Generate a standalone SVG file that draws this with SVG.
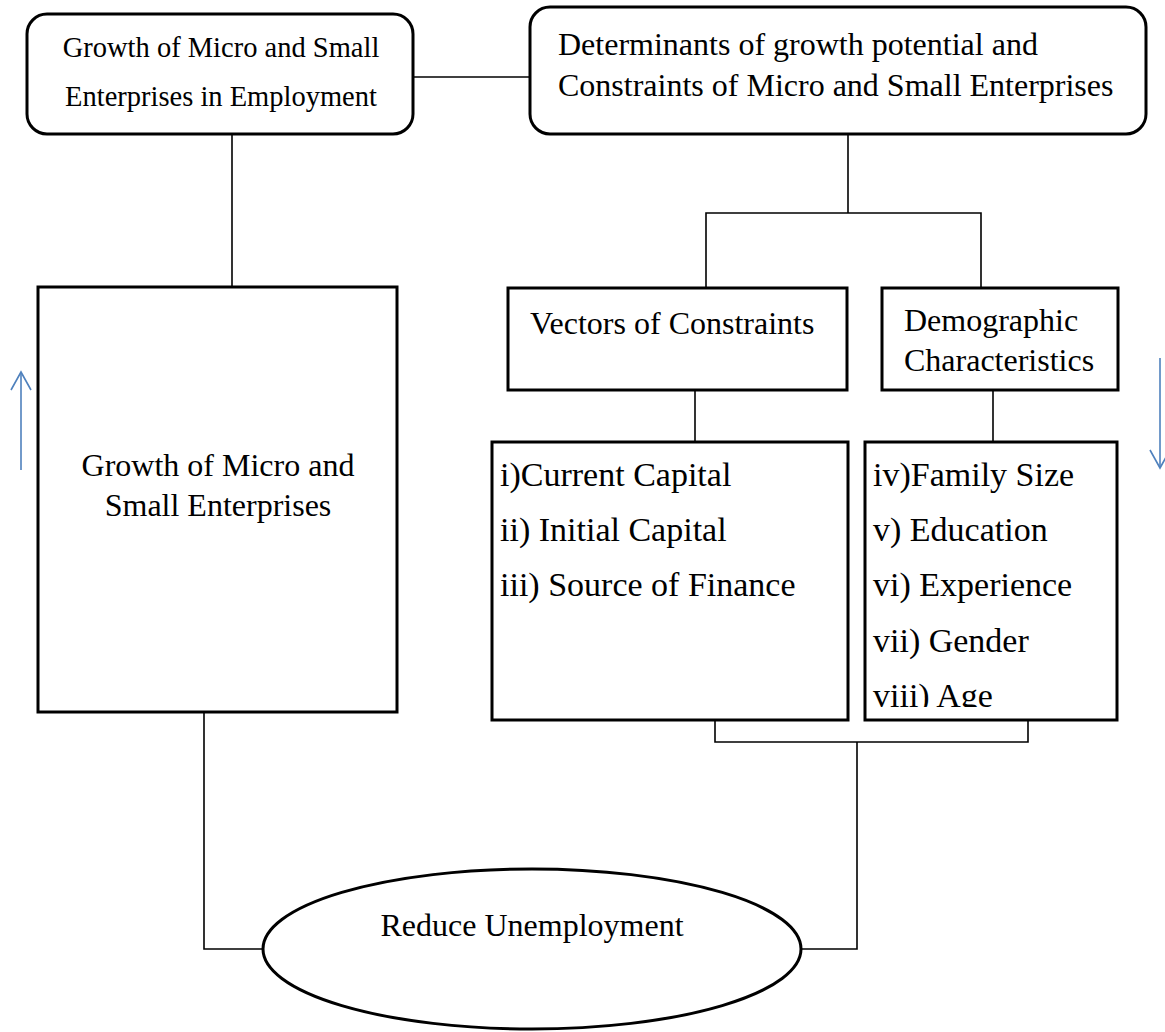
<svg xmlns="http://www.w3.org/2000/svg" width="1165" height="1032" viewBox="0 0 1165 1032">
<style>
  .box { fill: #fff; stroke: #000; stroke-width: 3; }
  .conn { fill: none; stroke: #000; stroke-width: 1.6; }
  .t { font-family: "Liberation Serif", "Times New Roman", serif; font-size: 32px; fill: #000; }
  .t1 { font-size: 28.5px; }
  .tl { font-size: 34px; }
  .blue { fill: none; stroke: #4f81bd; stroke-width: 1.6; }
</style>
<defs>
  <clipPath id="clipList2"><rect x="865" y="442" width="252" height="265"/></clipPath>
</defs>
<rect width="1165" height="1032" fill="#fff"/>
<g id="connectors">
  <line class="conn" x1="413" y1="77" x2="530" y2="77"/>
  <line class="conn" x1="232" y1="134" x2="232" y2="287"/>
  <polyline class="conn" points="848,134 848,213"/>
  <polyline class="conn" points="706,288 706,213 981,213 981,288"/>
  <line class="conn" x1="695" y1="390" x2="695" y2="442"/>
  <line class="conn" x1="993" y1="390" x2="993" y2="442"/>
  <polyline class="conn" points="715,720 715,742 1028,742 1028,720"/>
  <polyline class="conn" points="857,742 857,949 800,949"/>
  <polyline class="conn" points="204,712 204,949 263,949"/>
</g>
<g id="node-growth-employment">
  <rect class="box" x="27" y="14" width="386" height="120" rx="20"/>
  <text class="t t1" x="221" y="57" text-anchor="middle">Growth of Micro and Small</text>
  <text class="t t1" x="221" y="106" text-anchor="middle">Enterprises in Employment</text>
</g>
<g id="node-determinants">
  <rect class="box" x="530" y="7" width="616" height="127" rx="20"/>
  <text class="t" x="558" y="55">Determinants of growth potential and</text>
  <text class="t" x="558" y="96">Constraints of Micro and Small Enterprises</text>
</g>
<g id="node-growth">
  <rect class="box" x="38" y="287" width="359" height="425"/>
  <text class="t" x="218" y="476" text-anchor="middle">Growth of Micro and</text>
  <text class="t" x="218" y="516" text-anchor="middle">Small Enterprises</text>
</g>
<g id="node-vectors">
  <rect class="box" x="508" y="288" width="339" height="102"/>
  <text class="t" x="530" y="334">Vectors of Constraints</text>
</g>
<g id="node-demographic">
  <rect class="box" x="882" y="288" width="236" height="102"/>
  <text class="t" x="904" y="331">Demographic</text>
  <text class="t" x="904" y="371">Characteristics</text>
</g>
<g id="node-list-capital">
  <rect class="box" x="492" y="442" width="356" height="278"/>
  <text class="t tl" x="500" y="486">i)Current Capital</text>
  <text class="t tl" x="500" y="541">ii) Initial Capital</text>
  <text class="t tl" x="500" y="596">iii) Source of Finance</text>
</g>
<g id="node-list-demographic">
  <rect class="box" x="865" y="442" width="252" height="278"/>
  <g clip-path="url(#clipList2)">
    <text class="t tl" x="873" y="486">iv)Family Size</text>
    <text class="t tl" x="873" y="541">v) Education</text>
    <text class="t tl" x="873" y="596">vi) Experience</text>
    <text class="t tl" x="873" y="652">vii) Gender</text>
    <text class="t tl" x="873" y="707">viii) Age</text>
  </g>
</g>
<g id="node-reduce">
  <ellipse class="box" cx="532" cy="949" rx="269" ry="80"/>
  <text class="t" x="532" y="936" text-anchor="middle">Reduce Unemployment</text>
</g>
<g id="arrow-up">
  <line class="blue" x1="21" y1="470" x2="21" y2="373"/>
  <polyline class="blue" points="11,390 21,372 31,390"/>
</g>
<g id="arrow-down">
  <line class="blue" x1="1160" y1="358" x2="1160" y2="467"/>
  <polyline class="blue" points="1150,450 1160,468 1170,450"/>
</g>
</svg>
